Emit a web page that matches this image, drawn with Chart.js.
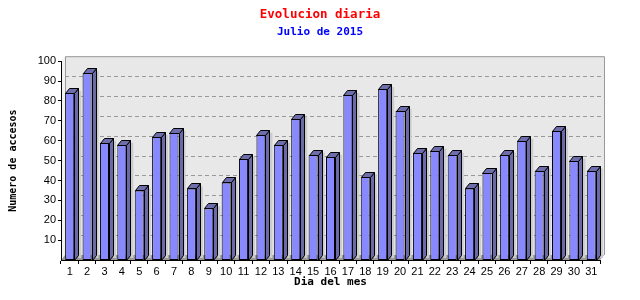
<!DOCTYPE html>
<html>
<head>
<meta charset="utf-8">
<script src="https://cdn.jsdelivr.net/npm/chart.js@4"></script>
<style>
    html, body { margin: 0; padding: 0; background: #fff; }
    #wrap { width: 640px; height: 300px; }
</style>
</head>
<body>
<div id="wrap"><canvas id="accesosChart" width="640" height="300"></canvas></div>
<script>
const dias = ["1","2","3","4","5","6","7","8","9","10","11","12","13","14","15","16",
              "17","18","19","20","21","22","23","24","25","26","27","28","29","30","31"];
const accesos = [84, 94, 59, 58, 35, 62, 64, 36, 26, 39, 51, 63, 58, 71, 53, 52,
                 83, 42, 86, 75, 54, 55, 53, 36, 44, 53, 60, 45, 65, 50, 45];
const yTicks = [10, 20, 30, 40, 50, 60, 70, 80, 90, 100];

// 3D depth of the pseudo-perspective
const DX = 4;
const DY = 5;

const monoBold = { family: "'DejaVu Sans Mono', monospace", weight: 'bold' };

// --- back wall, floor, dashed grid, bar shadows ---
const wallsPlugin = {
    id: 'walls',
    beforeDraw(chart) {
        const { ctx, chartArea: a } = chart;
        const y = chart.scales.y;
        ctx.save();

        // back wall
        ctx.fillStyle = '#e8e8e8';
        ctx.fillRect(a.left + DX, a.top - DY, a.right - a.left, a.bottom - a.top);

        // left wall
        ctx.fillStyle = '#f2f2f2';
        ctx.beginPath();
        ctx.moveTo(a.left, a.top);
        ctx.lineTo(a.left + DX, a.top - DY);
        ctx.lineTo(a.left + DX, a.bottom - DY);
        ctx.lineTo(a.left, a.bottom);
        ctx.closePath();
        ctx.fill();

        // floor
        ctx.fillStyle = '#999999';
        ctx.beginPath();
        ctx.moveTo(a.left, a.bottom);
        ctx.lineTo(a.left + DX, a.bottom - DY);
        ctx.lineTo(a.right + DX, a.bottom - DY);
        ctx.lineTo(a.right, a.bottom);
        ctx.closePath();
        ctx.fill();

        // dashed grid on the back wall
        ctx.strokeStyle = '#999999';
        ctx.lineWidth = 1;
        ctx.setLineDash([4, 3]);
        yTicks.filter(v => v < 100).forEach(v => {
            const py = Math.round(y.getPixelForValue(v) - DY) + 0.5;
            ctx.beginPath();
            ctx.moveTo(a.left + DX, py);
            ctx.lineTo(a.right + DX, py);
            ctx.stroke();
        });
        ctx.setLineDash([]);

        // wall border
        ctx.strokeStyle = '#999999';
        ctx.beginPath();
        ctx.moveTo(a.left + DX + 0.5, a.bottom - DY);
        ctx.lineTo(a.left + DX + 0.5, a.top - DY + 0.5);
        ctx.lineTo(a.right + DX + 0.5, a.top - DY + 0.5);
        ctx.lineTo(a.right + DX + 0.5, a.bottom - DY);
        ctx.stroke();

        // shadows of the bars on the back wall
        const meta = chart.getDatasetMeta(0);
        ctx.fillStyle = '#cccccc';
        meta.data.forEach(bar => {
            const { x, y: top, width } = bar.getProps(['x', 'y', 'width'], true);
            const r = x + width / 2;
            ctx.fillRect(r + DX, top - DY + 3, 3, a.bottom - top);
        });

        ctx.restore();
    },
    afterDatasetsDraw(chart) {
        const { ctx } = chart;
        const meta = chart.getDatasetMeta(0);
        ctx.save();
        ctx.lineWidth = 1;
        ctx.strokeStyle = '#000';
        ctx.lineJoin = 'miter';
        meta.data.forEach(bar => {
            const { x, y: top, base, width } = bar.getProps(['x', 'y', 'base', 'width'], true);
            const l = Math.round(x - width / 2) + 0.5;
            const r = Math.round(x + width / 2) + 0.5;
            const t = Math.round(top) + 0.5;
            const b = Math.round(base) + 0.5;

            // side
            ctx.fillStyle = '#6a6aa8';
            ctx.beginPath();
            ctx.moveTo(r, t);
            ctx.lineTo(r + DX, t - DY);
            ctx.lineTo(r + DX, b - DY);
            ctx.lineTo(r, b);
            ctx.closePath();
            ctx.fill();
            ctx.stroke();

            // top
            ctx.fillStyle = '#6e6eac';
            ctx.beginPath();
            ctx.moveTo(l, t);
            ctx.lineTo(l + DX, t - DY);
            ctx.lineTo(r + DX, t - DY);
            ctx.lineTo(r, t);
            ctx.closePath();
            ctx.fill();
            ctx.stroke();
        });
        ctx.restore();
    }
};

const ctx = document.getElementById('accesosChart').getContext('2d');

new Chart(ctx, {
    type: 'bar',
    data: {
        labels: dias,
        datasets: [{
            label: 'Accesos',
            data: accesos,
            backgroundColor: '#8888ff',
            borderColor: '#000',
            borderWidth: 1,
            borderSkipped: false,
            barPercentage: 0.52,
            categoryPercentage: 1
        }]
    },
    options: {
        responsive: false,
        animation: false,
        layout: { padding: 0 },
        plugins: {
            legend: { display: false },
            tooltip: { enabled: false },
            title: {
                display: true,
                text: 'Evolucion diaria',
                color: '#ff0000',
                font: { ...monoBold, size: 12.5 },
                padding: { top: 7, bottom: 4 }
            },
            subtitle: {
                display: true,
                text: 'Julio de 2015',
                color: '#0000ff',
                font: { ...monoBold, size: 11 },
                padding: { top: 0, bottom: 22 }
            }
        },
        scales: {
            x: {
                afterFit: scale => { scale.height = 40; },
                grid: {
                    drawOnChartArea: false,
                    drawTicks: true,
                    tickLength: 4,
                    color: '#000'
                },
                border: { color: '#000' },
                ticks: {
                    color: '#000',
                    padding: 1,
                    maxRotation: 0,
                    autoSkip: false,
                    font: { family: "'Liberation Sans', Arial, sans-serif", size: 11 }
                },
                title: {
                    display: true,
                    text: 'Dia del mes',
                    color: '#000',
                    font: { ...monoBold, size: 11 },
                    padding: { top: 0, bottom: 11 }
                }
            },
            y: {
                min: 0,
                max: 100,
                afterFit: scale => { scale.width = 61; },
                afterBuildTicks: scale => { scale.ticks = yTicks.map(v => ({ value: v })); },
                grid: {
                    drawOnChartArea: false,
                    drawTicks: true,
                    tickLength: 3,
                    color: '#000'
                },
                border: { color: '#000' },
                ticks: {
                    color: '#000',
                    padding: 2,
                    font: { family: "'Liberation Sans', Arial, sans-serif", size: 11 }
                },
                title: {
                    display: true,
                    text: 'Numero de accesos',
                    color: '#000',
                    font: { ...monoBold, size: 10 },
                    padding: { top: 7, bottom: 0 }
                }
            },
            // empty right margin, keeps the titles centred on the whole canvas
            yRight: {
                position: 'right',
                min: 0,
                max: 100,
                afterFit: scale => { scale.width = 40; },
                grid: { display: false },
                border: { display: false },
                ticks: { display: false }
            }
        }
    },
    plugins: [wallsPlugin]
});
</script>
</body>
</html>
